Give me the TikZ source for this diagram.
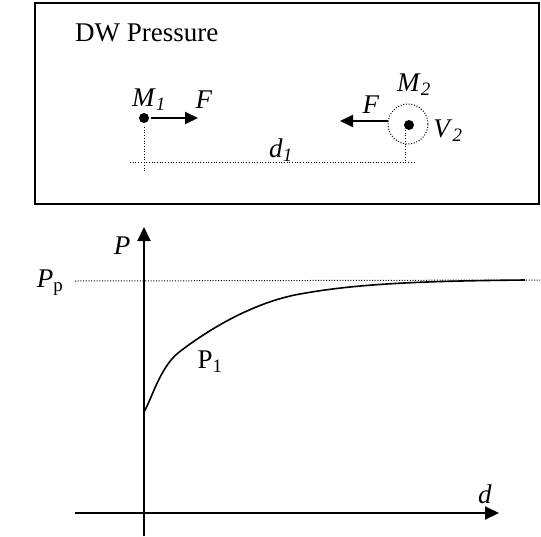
\documentclass[tikz,border=0pt]{standalone}
\usepackage{fontspec}
\setmainfont{Liberation Serif}
\usetikzlibrary{arrows.meta}
\tikzset{
  lbl/.style={inner sep=0pt, font=\fontsize{27}{31}\selectfont},
  dotline/.style={line width=1pt, dash pattern=on 1pt off 1.7pt},
  farrow/.style={line width=2pt, -{Triangle[length=13pt,width=12pt]}},
  axis/.style={line width=2pt, -{Triangle[length=14pt,width=13pt]}},
  dotmark/.style={circle, fill=black, inner sep=0pt, minimum size=10pt}
}
\newcommand{\isub}[2]{\textit{#1}\textsubscript{\textit{#2}}}
\begin{document}
\begin{tikzpicture}[x=1pt,y=-1pt]
\useasboundingbox (0,0) rectangle (541,536);
% frame
\draw[line width=2pt] (35,3) rectangle (539,204);
\node[lbl, anchor=base west] (title) at (75,41) {DW Pressure};
% M1
\node[dotmark] (m1) at (144,118) {};
\coordinate (f1end) at (198,118);
\draw[farrow] (m1.east) ++(2,0) -- (f1end);
\node[lbl] (m1l) at (149,100) {\isub{M}{1}};
\node[lbl] (f1l) at (204,100) {\textit{F}};
% M2
\node[dotmark] (m2) at (409,125) {};
\node[draw, circle, dotline, minimum size=40pt, inner sep=0pt] (v2) at (408,124) {};
\coordinate (f2end) at (340,121);
\draw[farrow] (v2.west) ++(0,-3) coordinate (f2start) -- (f2end);
\node[lbl] (f2l) at (371,105) {\textit{F}};
\node[lbl] (m2l) at (414,85) {\isub{M}{2}};
\node[lbl] (v2l) at (448,131) {\isub{V}{2}};
% distance
\coordinate (d1a) at (130,162);
\coordinate (d1b) at (414,162);
\coordinate (m1down) at (144,172);
\coordinate (m2down) at (405,162);
\draw[dotline] (d1a) -- (d1b);
\draw[dotline] (144,127) -- (m1down);
\draw[dotline] (405,130) -- (m2down);
\node[lbl] (d1l) at (281,150) {\isub{d}{1}};
% plot
\coordinate (yb) at (144,536);
\coordinate (yt) at (144,227);
\coordinate (xl) at (75,513);
\coordinate (xr) at (499,513);
\draw[axis] (yb) -- (yt);
\draw[axis] (xl) -- (xr);
\node[lbl] (pl) at (122,246) {\textit{P}};
\node[lbl] (dl) at (485,494) {\textit{d}};
\coordinate (ppa) at (75,281);
\coordinate (ppb) at (541,280);
\draw[dotline] (ppa) -- (ppb);
\node[lbl] (ppl) at (50,283) {\textit{P}\textsubscript{p}};
\draw[line width=1.6pt] (144,412) .. controls (152,398) and (160,368) .. (178,353)
  .. controls (210,328) and (255,302) .. (300,294)
  .. controls (360,283) and (430,281) .. (525,280);
\node[lbl] (p1l) at (210,362) {P\textsubscript{1}};
\end{tikzpicture}
\end{document}
